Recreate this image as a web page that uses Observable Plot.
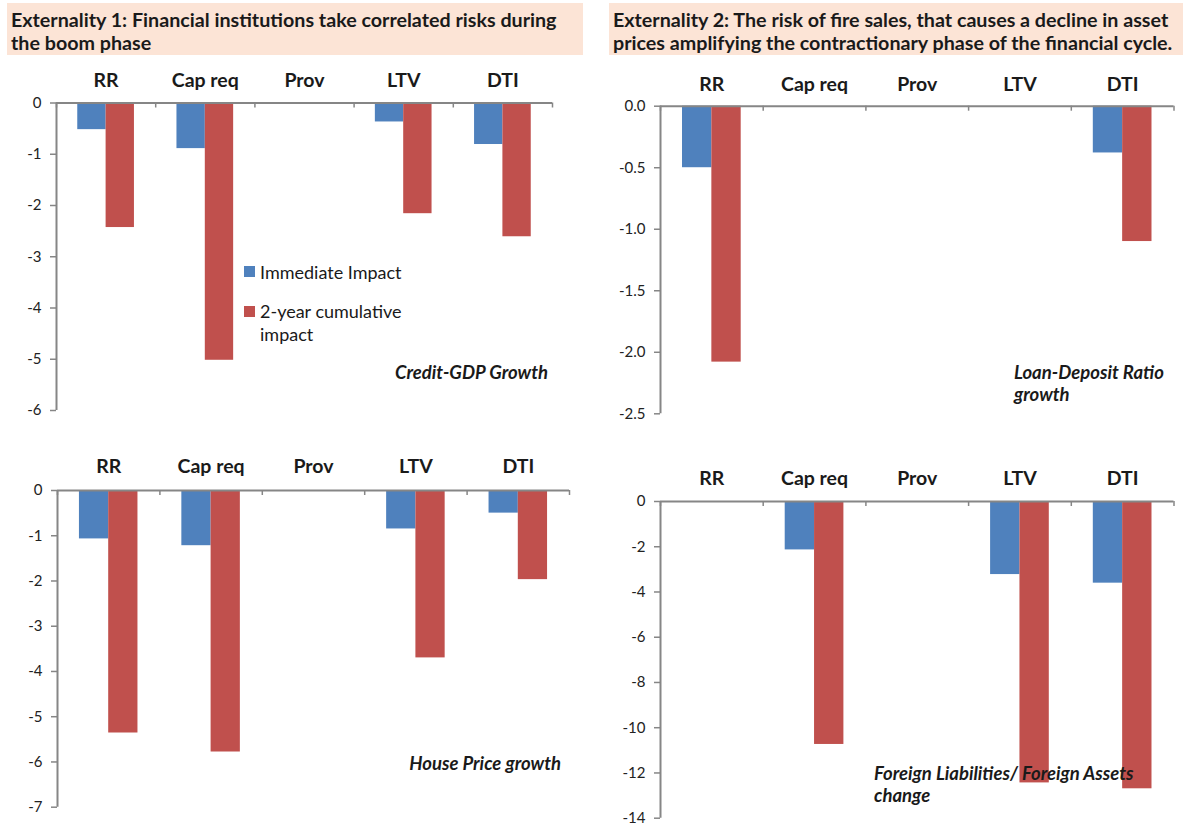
<!DOCTYPE html>
<html>
<head>
<meta charset="utf-8">
<script src="https://cdn.jsdelivr.net/npm/d3@7"></script>
<script src="https://cdn.jsdelivr.net/npm/@observablehq/plot@0.6"></script>
<style>
  html, body { margin: 0; padding: 0; background: #fff; }
  #page { position: relative; width: 1183px; height: 827px; overflow: hidden;
          font-family: Lato, "Open Sans", sans-serif; color: #1a1a1a; }
  .banner { position: absolute; background: #FCE4D6; }
  .title { position: absolute; font-weight: 700; font-size: 19.7px; line-height: 23px; white-space: nowrap; }
  .panel { position: absolute; }
  .note { position: absolute; font-weight: 700; font-style: italic; font-size: 18.5px;
          line-height: 22.5px; white-space: nowrap; }
  .legend { position: absolute; font-size: 18px; line-height: 23.3px; white-space: nowrap; }
  .swatch { position: absolute; width: 11px; height: 11px; }
</style>
</head>
<body>
<div id="page">
  <div class="banner" style="left:7px;top:3px;width:576px;height:52px;"></div>
  <div class="title" style="left:11px;top:8px;">Externality 1: Financial institutions take correlated risks during<br>the boom phase</div>
  <div class="banner" style="left:609px;top:3px;width:574px;height:52px;"></div>
  <div class="title" style="left:613px;top:8px;">Externality 2: The risk of fire sales, that causes a decline in asset<br>prices amplifying the contractionary phase of the financial cycle.</div>
</div>
<script>
// Policy instruments (categories) and the two impact horizons (series)
const categories = ["RR", "Cap req", "Prov", "LTV", "DTI"];
const series = ["Immediate Impact", "2-year cumulative impact"];
const seriesColors = ["#4F81BD", "#C0504D"];

// Credit-GDP growth
const creditGdpImmediate  = [-0.52, -0.89, null, -0.37, -0.81];
const creditGdpCumulative = [-2.43, -5.02, null, -2.16, -2.61];

// Loan-Deposit ratio growth
const loanDepositImmediate  = [-0.50, null, null, null, -0.38];
const loanDepositCumulative = [-2.08, null, null, null, -1.10];

// House price growth
const housePriceImmediate  = [-1.07, -1.22, null, -0.85, -0.50];
const housePriceCumulative = [-5.36, -5.78, null, -3.70, -1.97];

// Foreign liabilities / foreign assets change
const foreignImmediate  = [null, -2.14, null, -3.23, -3.61];
const foreignCumulative = [null, -10.74, null, -12.44, -12.70];

const axisGray = "#868686";
const page = document.getElementById("page");

function panel({immediate, cumulative, yMin, yStep, fmt, left, top, width, height, margin, labelDy}) {
  const rows = [];
  categories.forEach((c, i) => {
    [immediate[i], cumulative[i]].forEach((v, s) => {
      if (v != null) rows.push({category: c, i, s, series: series[s], value: v});
    });
  });
  const n = Math.round(-yMin / yStep);
  const ticks = d3.range(0, n + 1).map(k => -k * yStep);
  const innerH = height - margin.top - margin.bottom;
  // each category band: 0.75 gap, two bars, 0.75 gap (in bar widths)
  const unit = 3.5;
  const chart = Plot.plot({
    width, height,
    marginTop: margin.top, marginBottom: margin.bottom,
    marginLeft: margin.left, marginRight: margin.right,
    x: {domain: [0, categories.length], axis: null},
    y: {domain: [yMin, 0], axis: null},
    color: {domain: series, range: seriesColors},
    style: {fontFamily: "Lato, 'Open Sans', sans-serif", fontSize: "15px", color: "#222",
            background: "transparent", overflow: "visible"},
    marks: [
      Plot.rect(rows, {
        x1: d => d.i + (0.75 + d.s) / unit,
        x2: d => d.i + (1.75 + d.s) / unit,
        y1: () => 0, y2: "value", fill: "series"
      }),
      Plot.ruleX([0], {stroke: axisGray, strokeWidth: 2}),
      Plot.ruleY([0], {stroke: axisGray, strokeWidth: 2}),
      Plot.tickX(d3.range(categories.length + 1), {x: d => d, stroke: axisGray, strokeWidth: 1.5, insetBottom: innerH - 5}),
      Plot.axisY({ticks, tickSize: 6, tickPadding: 9, tickFormat: fmt, label: null,
                  stroke: axisGray, strokeWidth: 1.5, fill: "#222", fontSize: 15}),
      Plot.text(categories, {x: (d, i) => i + 0.5, frameAnchor: "top", dy: labelDy,
                             fontWeight: "bold", fontSize: 19.5, fill: "#1a1a1a"})
    ]
  });
  chart.classList.add("panel");
  chart.style.left = left + "px";
  chart.style.top = top + "px";
  page.appendChild(chart);
}

const intFmt = d => String(d);
const decFmt = d => d.toFixed(1);

panel({immediate: creditGdpImmediate, cumulative: creditGdpCumulative, yMin: -6, yStep: 1, fmt: intFmt,
       left: 0, top: 60, width: 590, height: 365,
       margin: {top: 42.5, bottom: 15, left: 56, right: 38}, labelDy: -29.5});
panel({immediate: loanDepositImmediate, cumulative: loanDepositCumulative, yMin: -2.5, yStep: 0.5, fmt: decFmt,
       left: 600, top: 60, width: 583, height: 365,
       margin: {top: 45.7, bottom: 11.7, left: 60, right: 9.5}, labelDy: -28.7});
panel({immediate: housePriceImmediate, cumulative: housePriceCumulative, yMin: -7, yStep: 1, fmt: intFmt,
       left: 0, top: 440, width: 590, height: 380,
       margin: {top: 50, bottom: 13.3, left: 57, right: 21}, labelDy: -31});
panel({immediate: foreignImmediate, cumulative: foreignCumulative, yMin: -14, yStep: 2, fmt: intFmt,
       left: 600, top: 440, width: 583, height: 387,
       margin: {top: 61, bottom: 9.3, left: 60, right: 9.5}, labelDy: -30});

// legend and series notes, drawn above the charts
function addHTML(html) { page.insertAdjacentHTML("beforeend", html); }
addHTML(`<div class="swatch" style="left:244px;top:266px;background:${seriesColors[0]}"></div>`);
addHTML(`<div class="legend" style="left:260px;top:260.5px;">${series[0]}</div>`);
addHTML(`<div class="swatch" style="left:244px;top:306px;background:${seriesColors[1]}"></div>`);
addHTML(`<div class="legend" style="left:260px;top:300px;">2-year cumulative<br>impact</div>`);

addHTML(`<div class="note" style="right:${1183 - 548}px;top:360.75px;">Credit-GDP Growth</div>`);
addHTML(`<div class="note" style="left:1014px;top:360.5px;">Loan-Deposit Ratio<br>growth</div>`);
addHTML(`<div class="note" style="right:${1183 - 561}px;top:751.5px;">House Price growth</div>`);
addHTML(`<div class="note" style="left:874px;top:761.75px;">Foreign Liabilities/ Foreign Assets<br>change</div>`);
</script>
</body>
</html>
